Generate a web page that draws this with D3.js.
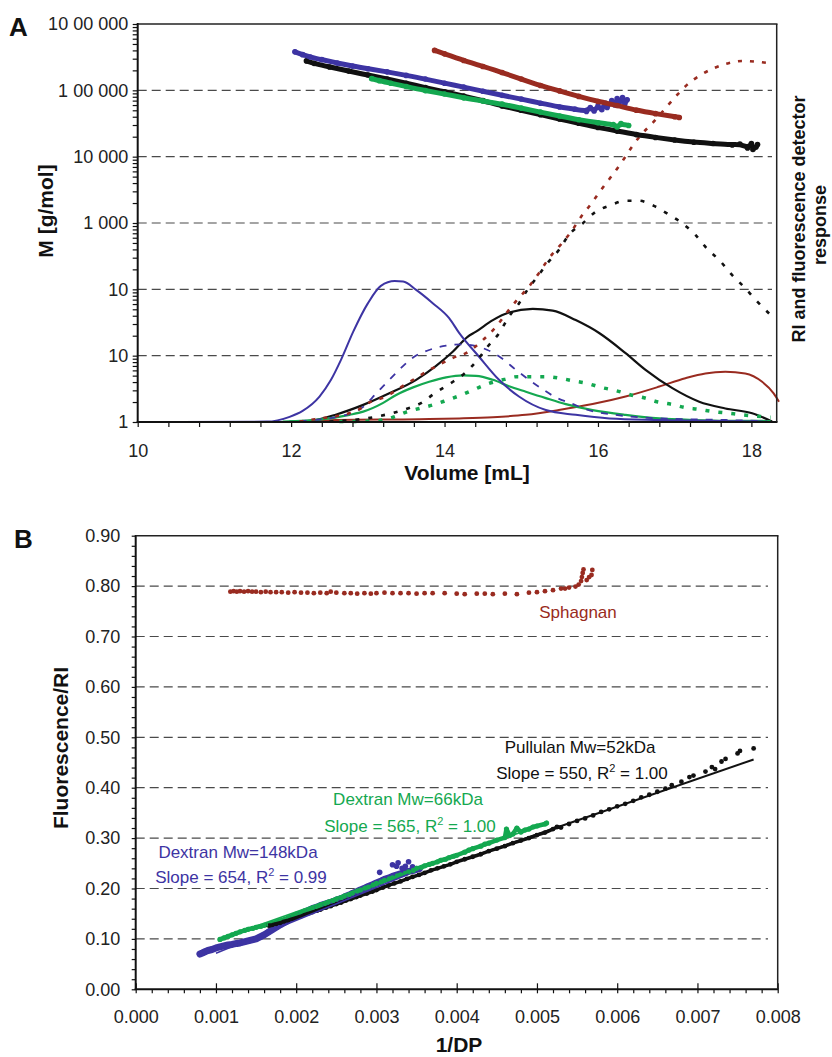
<!DOCTYPE html>
<html>
<head>
<meta charset="utf-8">
<script src="https://cdn.jsdelivr.net/npm/d3@7"></script>
<style>
  body { margin: 0; background: #fff; }
  svg { display: block; }
  text { font-family: "Liberation Sans", Arial, Helvetica, sans-serif; }
</style>
</head>
<body>
<svg id="fig" width="832" height="1057"></svg>
<script>
// ---------- Panel A: molar mass (log axis) vs elution volume ----------
const volTicksA = [10, 12, 14, 16, 18];
const massDecades = [1, 10, 100, 1000, 1e4, 1e5, 1e6];
const massLabels = ["1", "10", "10", "1 000", "10 000", "1 00 000", "10 00 000"];

// Molar mass traces [volume mL, M g/mol]
const mDextran148 = [[12.05,380000],[12.15,345000],[12.25,318000],[12.4,290000],[12.6,258000],[12.8,232000],[13.0,212000],[13.25,190000],[13.5,168000],[13.75,148000],[14.0,128000],[14.25,112000],[14.5,97000],[14.75,84000],[15.0,74000],[15.25,64000],[15.5,56000],[15.7,52000],[15.85,48000],[15.9,55000],[15.95,49000],[16.0,58000],[16.05,51000],[16.1,64000],[16.12,55000],[16.18,70000],[16.22,60000],[16.25,75000],[16.28,66000],[16.32,78000],[16.35,62000],[16.38,72000]];
const mPullulan = [[12.2,278000],[12.3,255000],[12.5,225000],[12.75,195000],[13.0,170000],[13.25,148000],[13.5,128000],[13.75,110000],[14.0,95000],[14.25,82000],[14.5,70000],[14.75,58000],[15.0,50000],[15.25,43000],[15.5,37000],[15.75,32000],[16.0,27500],[16.25,24300],[16.5,21500],[16.75,19500],[17.0,17800],[17.25,16500],[17.5,15800],[17.75,15000],[17.85,15500],[17.95,13500],[18.0,15800],[18.02,12800],[18.06,14000],[18.08,15200]];
const mDextran66 = [[13.05,150000],[13.15,140000],[13.3,128000],[13.5,114000],[13.75,99000],[14.0,88000],[14.25,77000],[14.5,69000],[14.75,62000],[15.0,54000],[15.25,47000],[15.5,41000],[15.75,36000],[16.0,32500],[16.2,30500],[16.25,28000],[16.3,31500],[16.4,29500]];
const mSphagnan = [[13.87,400000],[14.0,355000],[14.25,282000],[14.5,229000],[14.75,186000],[15.0,148000],[15.25,118000],[15.5,98000],[15.75,81000],[16.0,68000],[16.25,59000],[16.5,50000],[16.75,44500],[17.0,40000],[17.06,39000]];

// Detector responses [volume mL, relative response 0-100]
const riDextran148 = [[10.55,0],[11.68,0.1],[11.98,1.3],[12.15,2.8],[12.37,6.4],[12.52,10.6],[12.65,15.6],[12.81,22.7],[13.0,29.8],[13.17,34.2],[13.35,35.4],[13.46,35.3],[13.63,33.2],[13.85,29.8],[14.06,26.1],[14.19,22.4],[14.45,16.4],[14.71,10.6],[14.97,6.4],[15.32,3.0],[15.71,1.8],[16.15,0.9],[16.8,0.5],[18.1,0.1],[18.22,0]];
const flDextran148 = [[12.11,0.2],[12.72,1.8],[12.94,3.8],[13.11,7.2],[13.28,10.6],[13.63,16.7],[13.83,18.3],[14.02,19.2],[14.22,19.5],[14.56,18.1],[14.74,16.1],[14.93,13.1],[15.1,10.6],[15.28,8.2],[15.47,6.0],[15.65,4.7],[15.84,3.2],[16.23,1.8],[16.8,0.9],[17.67,0.5],[18.1,0.25],[18.2,0.2]];
const riPullulan = [[11.98,0.1],[12.24,0.3],[12.59,1.9],[12.94,4.3],[13.28,7.2],[13.63,10.6],[13.89,14.1],[14.11,17.7],[14.3,21.4],[14.41,22.7],[14.63,25.6],[14.84,27.5],[15.15,28.4],[15.41,28.0],[15.71,25.6],[16.02,22.3],[16.36,17.3],[16.62,13.1],[16.97,8.5],[17.32,5.1],[17.66,3.4],[18.01,2.2],[18.27,0.1]];
const flPullulan = [[12.5,0.1],[12.98,0.9],[13.33,2.3],[13.52,3.4],[13.7,4.8],[13.87,7.2],[14.06,9.5],[14.26,12.2],[14.43,15.6],[14.56,18.9],[14.71,22.3],[14.84,26.5],[14.97,29.8],[15.08,33.2],[15.21,36.5],[15.34,39.9],[15.49,43.2],[15.62,47.0],[15.8,49.9],[15.97,52.8],[16.17,54.5],[16.36,55.6],[16.53,55.6],[16.73,54.3],[16.9,52.4],[17.1,49.9],[17.27,47.0],[17.42,43.6],[17.6,40.3],[17.75,36.9],[17.9,34.0],[18.08,30.2],[18.25,26.9]];
const riDextran66 = [[11.89,0.1],[12.42,0.7],[12.76,1.8],[12.94,2.6],[13.2,4.8],[13.37,6.8],[13.59,8.7],[13.8,10.1],[14.02,11.2],[14.24,11.7],[14.41,11.6],[14.63,10.6],[14.84,9.0],[15.06,7.6],[15.32,6.0],[15.58,4.5],[15.93,3.0],[16.36,1.8],[16.8,0.9],[17.23,0.5],[17.66,0.3],[18.1,0.3],[18.25,0.2]];
const flDextran66 = [[12.63,0.1],[13.11,0.3],[13.33,1.2],[13.5,2.5],[13.67,3.4],[13.85,4.3],[14.02,5.4],[14.22,6.8],[14.39,8.2],[14.58,9.7],[14.78,10.7],[14.95,11.4],[15.13,11.4],[15.32,11.4],[15.5,11.0],[15.69,10.3],[15.86,9.7],[16.04,8.7],[16.23,7.9],[16.43,6.8],[16.6,6.1],[16.77,5.1],[16.97,4.4],[17.14,3.6],[17.31,3.2],[17.51,2.6],[17.7,2.2],[17.88,1.8],[18.05,1.5],[18.25,1.2]];
const riSphagnan = [[12.11,0.1],[12.59,0.5],[13.67,0.7],[14.19,0.9],[14.63,1.2],[15.06,1.8],[15.49,3.0],[15.93,4.5],[16.36,6.4],[16.8,8.9],[17.14,11.0],[17.4,12.2],[17.66,12.6],[17.92,12.2],[18.14,10.1],[18.29,7.2],[18.36,5.1]];
const flSphagnan = [[12.11,0.1],[12.31,0.7],[12.5,1.2],[12.68,1.8],[12.87,3.0],[13.04,5.1],[13.24,6.4],[13.41,8.5],[13.59,10.6],[13.76,12.6],[13.96,14.7],[14.13,16.3],[14.28,17.3],[14.5,20.6],[14.67,23.9],[14.82,27.7],[14.95,30.8],[15.1,34.0],[15.23,37.4],[15.36,41.1],[15.49,44.0],[15.65,47.8],[15.78,51.6],[15.91,54.8],[16.04,58.3],[16.17,61.6],[16.3,65.0],[16.43,68.8],[16.56,72.1],[16.71,75.1],[16.86,78.4],[17.01,81.7],[17.16,84.7],[17.34,87.2],[17.51,88.9],[17.69,90.1],[17.88,90.7],[18.08,90.5],[18.25,90.1]];

// ---------- Panel B: fluorescence/RI ratio vs 1/DP ----------
const ratioTicksB = [0, 0.1, 0.2, 0.3, 0.4, 0.5, 0.6, 0.7, 0.8, 0.9];
const invDPTicksB = [0, 0.001, 0.002, 0.003, 0.004, 0.005, 0.006, 0.007, 0.008];

const bSphagnan = [[0.00118,0.789],[0.00122,0.790],[0.00126,0.789],[0.0013,0.790],[0.00135,0.789],[0.0014,0.790],[0.00145,0.789],[0.0015,0.789],[0.00156,0.788],[0.00162,0.789],[0.00168,0.788],[0.00175,0.788],[0.00182,0.788],[0.0019,0.787],[0.00198,0.788],[0.00206,0.787],[0.00214,0.787],[0.00222,0.786],[0.0023,0.787],[0.00238,0.786],[0.00243,0.789],[0.0025,0.787],[0.0026,0.786],[0.00268,0.786],[0.00276,0.785],[0.00285,0.786],[0.00293,0.785],[0.003,0.786],[0.0031,0.787],[0.0032,0.786],[0.0033,0.786],[0.0034,0.786],[0.0035,0.785],[0.0036,0.786],[0.0037,0.786],[0.00385,0.786],[0.004,0.785],[0.0041,0.784],[0.00425,0.785],[0.00435,0.785],[0.00445,0.784],[0.0046,0.785],[0.00475,0.784],[0.0049,0.787],[0.005,0.788],[0.0051,0.790],[0.0052,0.792],[0.0053,0.795],[0.00535,0.795],[0.0054,0.797],[0.00548,0.799],[0.00552,0.803],[0.00555,0.810],[0.00556,0.818],[0.00557,0.826],[0.00558,0.833],[0.00562,0.812],[0.00565,0.818],[0.00568,0.822],[0.00569,0.832]];
const bDextran148 = [[0.0008,0.070],[0.00083,0.072],[0.00087,0.075],[0.0009,0.077],[0.00095,0.079],[0.001,0.082],[0.00105,0.084],[0.0011,0.086],[0.00115,0.088],[0.0012,0.089],[0.00126,0.091],[0.0013,0.092],[0.00135,0.094],[0.0014,0.096],[0.00145,0.098],[0.0015,0.100],[0.00155,0.104],[0.0016,0.108],[0.00165,0.113],[0.0017,0.118],[0.00175,0.123],[0.0018,0.128],[0.00186,0.133],[0.0019,0.137],[0.00196,0.142],[0.002,0.145],[0.00206,0.150],[0.0021,0.153],[0.00216,0.157],[0.0022,0.160],[0.00226,0.163],[0.0023,0.166],[0.00236,0.169],[0.0024,0.171],[0.00246,0.174],[0.0025,0.177],[0.00256,0.180],[0.0026,0.183],[0.00266,0.187],[0.0027,0.190],[0.00276,0.194],[0.0028,0.197],[0.00286,0.201],[0.0029,0.204],[0.00296,0.208],[0.003,0.211],[0.00306,0.215],[0.0031,0.218],[0.00316,0.221],[0.0032,0.224],[0.00326,0.227],[0.0033,0.229],[0.00336,0.232],[0.0034,0.234],[0.00346,0.236],[0.0035,0.238]];
const bDextran148Outliers = [[0.00304,0.232],[0.0032,0.247],[0.00325,0.244],[0.00327,0.251],[0.00332,0.240],[0.00336,0.244],[0.0034,0.253],[0.00345,0.243],[0.00354,0.238]];
const bDextran66 = [[0.00105,0.099],[0.0011,0.102],[0.00115,0.105],[0.0012,0.108],[0.00125,0.111],[0.0013,0.114],[0.00136,0.117],[0.0014,0.119],[0.00146,0.121],[0.0015,0.123],[0.00156,0.125],[0.0016,0.127],[0.00166,0.129],[0.0017,0.131],[0.00176,0.134],[0.0018,0.136],[0.00186,0.139],[0.0019,0.142],[0.00196,0.146],[0.002,0.149],[0.00206,0.152],[0.0021,0.155],[0.00216,0.158],[0.0022,0.161],[0.00226,0.164],[0.0023,0.167],[0.00236,0.170],[0.0024,0.173],[0.00246,0.176],[0.0025,0.179],[0.00256,0.182],[0.0026,0.185],[0.00266,0.188],[0.0027,0.191],[0.00276,0.195],[0.0028,0.197],[0.00286,0.201],[0.0029,0.203],[0.00296,0.207],[0.003,0.210],[0.00306,0.213],[0.0031,0.216],[0.00316,0.219],[0.0032,0.221],[0.00326,0.225],[0.0033,0.227],[0.00336,0.230],[0.0034,0.233],[0.00346,0.236],[0.0035,0.240],[0.00356,0.242],[0.0036,0.245],[0.00366,0.248],[0.0037,0.250],[0.00376,0.253],[0.0038,0.256],[0.00386,0.258],[0.0039,0.261],[0.00396,0.264],[0.004,0.266],[0.0041,0.272],[0.00415,0.276],[0.0042,0.279],[0.0043,0.284],[0.00435,0.288],[0.0044,0.290],[0.0045,0.296],[0.0046,0.301],[0.00462,0.318],[0.00466,0.305],[0.0047,0.308],[0.00475,0.320],[0.0048,0.312],[0.00485,0.316],[0.0049,0.318],[0.00495,0.322],[0.005,0.324],[0.0051,0.328],[0.00512,0.330]];
const bPullulan = [[0.00165,0.127],[0.0017,0.128],[0.00175,0.130],[0.0018,0.132],[0.00185,0.135],[0.0019,0.137],[0.00196,0.140],[0.002,0.142],[0.00206,0.145],[0.0021,0.148],[0.00216,0.151],[0.0022,0.153],[0.00226,0.156],[0.0023,0.158],[0.00237,0.162],[0.00243,0.165],[0.0025,0.169],[0.00256,0.172],[0.00262,0.176],[0.00268,0.179],[0.00275,0.183],[0.0028,0.186],[0.00288,0.190],[0.00295,0.194],[0.003,0.197],[0.00308,0.202],[0.00315,0.206],[0.00322,0.210],[0.0033,0.214],[0.00338,0.219],[0.00345,0.223],[0.00353,0.227],[0.0036,0.231],[0.00368,0.236],[0.00376,0.240],[0.00384,0.244],[0.00392,0.248],[0.004,0.253],[0.0041,0.258],[0.0042,0.263],[0.0043,0.268],[0.0044,0.274],[0.0045,0.279],[0.0046,0.284],[0.0047,0.290],[0.0048,0.295],[0.0049,0.300],[0.005,0.306],[0.0051,0.311],[0.0052,0.318],[0.00525,0.322],[0.0053,0.321],[0.0054,0.328],[0.0055,0.334],[0.0056,0.339],[0.0057,0.345],[0.0058,0.352],[0.0059,0.357],[0.006,0.363],[0.0061,0.368],[0.0062,0.374],[0.0063,0.381],[0.0064,0.386],[0.0065,0.392],[0.0066,0.398],[0.00668,0.405],[0.0068,0.412],[0.0069,0.421],[0.00695,0.424],[0.0071,0.432],[0.00718,0.441],[0.00722,0.437],[0.0073,0.452],[0.00735,0.457],[0.0075,0.468],[0.00753,0.473],[0.0077,0.478]];

// Linear fits: reported slope (per 10 units of 1/DP), intercept, fitted range
const fitNames = ["Pullulan Mw=52kDa", "Dextran Mw=66kDa", "Dextran Mw=148kDa"];
const fitSlopes = [550, 565, 654];
const fitR2 = ["1.00", "1.00", "0.99"];
const fitIntercepts = [0.0325, 0.0405, 0.006];
const fitRanges = [[0.00165, 0.0077], [0.00105, 0.00512], [0.001, 0.0034]];
const slopeUnit = 0.1;

// ---------- styling ----------
const BLUE = "#3d34a3", GREEN = "#14a850", RED = "#992b20", BLACK = "#111111";
const GRID = "#4a4a4a";

const svg = d3.select("#fig");

// ===== Panel A =====
const xA = d3.scaleLinear().domain([10, 18.33]).range([137.7, 776.7]);
const yA = d3.scaleLog().domain([1, 1e6]).range([422, 24]);
const yR = d3.scaleLinear().domain([0, 100]).range([422, 24]);

const gA = svg.append("g");

// horizontal dashed grid
gA.append("g").selectAll("line").data(massDecades.slice(1, 6)).join("line")
  .attr("x1", xA(10)).attr("x2", 772)
  .attr("y1", d => yA(d)).attr("y2", d => yA(d))
  .attr("stroke", GRID).attr("stroke-width", 1.2).attr("stroke-dasharray", "9,5");

// detector response curves
const lineR = d3.line().x(d => xA(d[0])).y(d => yR(d[1])).curve(d3.curveMonotoneX);
const respCurves = [
  { data: riSphagnan, color: RED, w: 2, dash: null },
  { data: riPullulan, color: BLACK, w: 2.2, dash: null },
  { data: riDextran66, color: GREEN, w: 2.2, dash: null },
  { data: riDextran148, color: BLUE, w: 2, dash: null },
  { data: flDextran148, color: BLUE, w: 1.8, dash: "7,8" },
  { data: flDextran66, color: GREEN, w: 3.5, dash: "4,9" },
  { data: flPullulan, color: BLACK, w: 2.6, dash: "4,9" },
  { data: flSphagnan, color: RED, w: 2.6, dash: "4,8" }
];
gA.append("g").selectAll("path").data(respCurves).join("path")
  .attr("d", d => lineR(d.data))
  .attr("fill", "none")
  .attr("stroke", d => d.color)
  .attr("stroke-width", d => d.w)
  .attr("stroke-dasharray", d => d.dash);

// molar mass traces
const massSeries = [
  { data: mPullulan, color: BLACK },
  { data: mDextran66, color: GREEN },
  { data: mDextran148, color: BLUE },
  { data: mSphagnan, color: RED }
];
massSeries.forEach(s => {
  const main = s.data;
  gA.append("path").datum(main)
    .attr("d", d3.line().x(d => xA(d[0])).y(d => yA(d[1])).curve(d3.curveBasis))
    .attr("fill", "none").attr("stroke", s.color)
    .attr("stroke-width", 5).attr("stroke-linecap", "round").attr("stroke-linejoin", "round");
  gA.append("g").selectAll("circle").data(main).join("circle")
    .attr("cx", d => xA(d[0])).attr("cy", d => yA(d[1])).attr("r", 2.8)
    .attr("fill", s.color);
});

// axes A
const tickValsYA = yA.ticks();
const axisYA = d3.axisLeft(yA).tickValues(tickValsYA).tickSize(5).tickPadding(4.5)
  .tickFormat(d => {
    const i = massDecades.findIndex(v => Math.abs(v - d) < 1e-6 * v);
    return i >= 0 ? massLabels[i] : "";
  });
const gyA = gA.append("g").attr("transform", `translate(${xA(10)},0)`).call(axisYA);
gyA.select(".domain").remove();
gyA.selectAll("line").attr("stroke", "#111").attr("stroke-width", 1.2);
gyA.selectAll("text").attr("font-size", 18).attr("fill", "#222")
  .attr("font-family", '"Liberation Sans", Arial, sans-serif');

const axisXA = d3.axisBottom(xA).tickValues(d3.range(21).map(i => 10 + i * 0.4))
  .tickSize(5).tickPadding(17)
  .tickFormat(d => volTicksA.some(v => Math.abs(v - d) < 1e-6) ? d3.format("d")(Math.round(d)) : "");
const gxA = gA.append("g").attr("transform", `translate(0,${yA(1)})`).call(axisXA);
gxA.select(".domain").remove();
gxA.selectAll("line").attr("stroke", "#111").attr("stroke-width", 1.2);
gxA.selectAll("text").attr("font-size", 18).attr("fill", "#222")
  .attr("font-family", '"Liberation Sans", Arial, sans-serif');

// frame A
gA.append("line").attr("x1", xA(10)).attr("x2", xA(10)).attr("y1", 23).attr("y2", 423).attr("stroke", "#111").attr("stroke-width", 2);
gA.append("line").attr("x1", xA(10) - 1).attr("x2", 777.5).attr("y1", 422).attr("y2", 422).attr("stroke", "#111").attr("stroke-width", 2);
gA.append("line").attr("x1", xA(10)).attr("x2", 777.5).attr("y1", 24).attr("y2", 24).attr("stroke", "#222").attr("stroke-width", 1.5);
gA.append("line").attr("x1", 776.7).attr("x2", 776.7).attr("y1", 24).attr("y2", 422).attr("stroke", "#222").attr("stroke-width", 1.5);

// titles A
svg.append("text").attr("x", 9).attr("y", 36).attr("font-size", 26).attr("font-weight", "bold").attr("fill", "#111").text("A");
svg.append("text").attr("transform", "translate(53,211) rotate(-90)").attr("text-anchor", "middle")
  .attr("font-size", 21).attr("font-weight", "bold").attr("fill", "#111").text("M [g/mol]");
svg.append("text").attr("x", 467).attr("y", 480).attr("text-anchor", "middle")
  .attr("font-size", 21).attr("font-weight", "bold").attr("fill", "#111").text("Volume [mL]");
svg.append("text").attr("transform", "translate(805,219) rotate(-90)").attr("text-anchor", "middle")
  .attr("font-size", 18).attr("font-weight", "bold").attr("fill", "#111").text("RI and fluorescence detector");
svg.append("text").attr("transform", "translate(826,225) rotate(-90)").attr("text-anchor", "middle")
  .attr("font-size", 18).attr("font-weight", "bold").attr("fill", "#111").text("response");

// ===== Panel B =====
const xB = d3.scaleLinear().domain([0, 0.008]).range([135.7, 777.7]);
const yB = d3.scaleLinear().domain([0, 0.9]).range([989.3, 535.7]);
const gB = svg.append("g");

gB.append("g").selectAll("line").data(ratioTicksB.slice(1, 9)).join("line")
  .attr("x1", xB(0)).attr("x2", 768)
  .attr("y1", d => yB(d)).attr("y2", d => yB(d))
  .attr("stroke", GRID).attr("stroke-width", 1.2).attr("stroke-dasharray", "9,5");

const lineB = d3.line().x(d => xB(d[0])).y(d => yB(d[1]));

// dense bands for the dextran series
gB.append("path").datum(bDextran148).attr("d", lineB).attr("fill", "none")
  .attr("stroke", BLUE).attr("stroke-width", 7).attr("stroke-linecap", "round").attr("stroke-linejoin", "round");
gB.append("path").datum(bDextran66).attr("d", lineB).attr("fill", "none")
  .attr("stroke", GREEN).attr("stroke-width", 4.5).attr("stroke-linecap", "round").attr("stroke-linejoin", "round");

const dotGroups = [
  { data: bSphagnan, color: RED, r: 2.4 },
  { data: bDextran148, color: BLUE, r: 3 },
  { data: bDextran148Outliers, color: BLUE, r: 2.8 },
  { data: bPullulan, color: BLACK, r: 2.4 },
  { data: bDextran66, color: GREEN, r: 2.6 }
];
dotGroups.forEach(gp => {
  gB.append("g").selectAll("circle").data(gp.data).join("circle")
    .attr("cx", d => xB(d[0])).attr("cy", d => yB(d[1])).attr("r", gp.r).attr("fill", gp.color);
});
gB.append("path").datum(bPullulan.slice(0, 52)).attr("d", lineB).attr("fill", "none")
  .attr("stroke", BLACK).attr("stroke-width", 3.5).attr("stroke-linejoin", "round");

// fitted lines
const fitColors = [BLACK, GREEN, BLUE];
fitSlopes.forEach((s, i) => {
  const f = x => fitIntercepts[i] + s * slopeUnit * x;
  const pts = fitRanges[i].map(x => [x, f(x)]);
  gB.append("path").datum(pts).attr("d", lineB).attr("fill", "none")
    .attr("stroke", fitColors[i]).attr("stroke-width", i === 0 ? 2 : 1.6);
});

// axes B
const axisYB = d3.axisLeft(yB).tickValues(d3.range(46).map(i => i * 0.02)).tickSize(4).tickPadding(11.5)
  .tickFormat(d => ratioTicksB.some(v => Math.abs(v - d) < 1e-9) ? d3.format(".2f")(d) : "");
const gyB = gB.append("g").attr("transform", `translate(${xB(0)},0)`).call(axisYB);
gyB.select(".domain").remove();
gyB.selectAll("line").attr("stroke", "#111").attr("stroke-width", 1.2);
gyB.selectAll("text").attr("font-size", 18).attr("fill", "#222")
  .attr("font-family", '"Liberation Sans", Arial, sans-serif');

const axisXB = d3.axisBottom(xB).tickValues(d3.range(41).map(i => i * 0.0002)).tickSize(4).tickPadding(17)
  .tickFormat(d => invDPTicksB.some(v => Math.abs(v - d) < 1e-9) ? d3.format(".3f")(d) : "");
const gxB = gB.append("g").attr("transform", `translate(0,${yB(0)})`).call(axisXB);
gxB.select(".domain").remove();
gxB.selectAll("line").attr("stroke", "#111").attr("stroke-width", 1.2);
gxB.selectAll("text").attr("font-size", 18).attr("fill", "#222")
  .attr("font-family", '"Liberation Sans", Arial, sans-serif');
const gxB2 = gB.append("g").attr("transform", `translate(0,${yB(0)})`)
  .call(d3.axisTop(xB).tickValues(invDPTicksB).tickSize(6).tickFormat(""));
gxB2.select(".domain").remove();
gxB2.selectAll("line").attr("stroke", "#111").attr("stroke-width", 1.2);

// frame B
gB.append("line").attr("x1", xB(0)).attr("x2", xB(0)).attr("y1", 535).attr("y2", 990).attr("stroke", "#111").attr("stroke-width", 2);
gB.append("line").attr("x1", xB(0) - 1).attr("x2", 778.5).attr("y1", yB(0)).attr("y2", yB(0)).attr("stroke", "#111").attr("stroke-width", 2);
gB.append("line").attr("x1", xB(0)).attr("x2", 778.5).attr("y1", yB(0.9)).attr("y2", yB(0.9)).attr("stroke", "#222").attr("stroke-width", 1.5);
gB.append("line").attr("x1", 777.7).attr("x2", 777.7).attr("y1", yB(0.9)).attr("y2", yB(0)).attr("stroke", "#222").attr("stroke-width", 1.5);

// titles B
svg.append("text").attr("x", 14).attr("y", 548).attr("font-size", 26).attr("font-weight", "bold").attr("fill", "#111").text("B");
svg.append("text").attr("transform", "translate(68,748) rotate(-90)").attr("text-anchor", "middle")
  .attr("font-size", 21).attr("font-weight", "bold").attr("fill", "#111").text("Fluorescence/RI");
svg.append("text").attr("x", 459).attr("y", 1052).attr("text-anchor", "middle")
  .attr("font-size", 21).attr("font-weight", "bold").attr("fill", "#111").text("1/DP");

// annotations
svg.append("text").attr("x", 578).attr("y", 618).attr("text-anchor", "middle")
  .attr("font-size", 17).attr("fill", RED).text("Sphagnan");

const labelPos = [[580, 753, 582, 779], [408, 805, 410, 832], [238, 858, 241, 883]];
fitSlopes.forEach((s, i) => {
  const [nx, ny, sx, sy] = labelPos[i];
  svg.append("text").attr("x", nx).attr("y", ny).attr("text-anchor", "middle")
    .attr("font-size", 17).attr("fill", fitColors[i]).text(fitNames[i]);
  const t = svg.append("text").attr("x", sx).attr("y", sy).attr("text-anchor", "middle")
    .attr("font-size", 17).attr("fill", fitColors[i]);
  t.append("tspan").text(`Slope = ${s}, R`);
  t.append("tspan").attr("font-size", 11).attr("dy", -7).text("2");
  t.append("tspan").attr("dy", 7).text(` = ${fitR2[i]}`);
});
</script>
</body>
</html>
